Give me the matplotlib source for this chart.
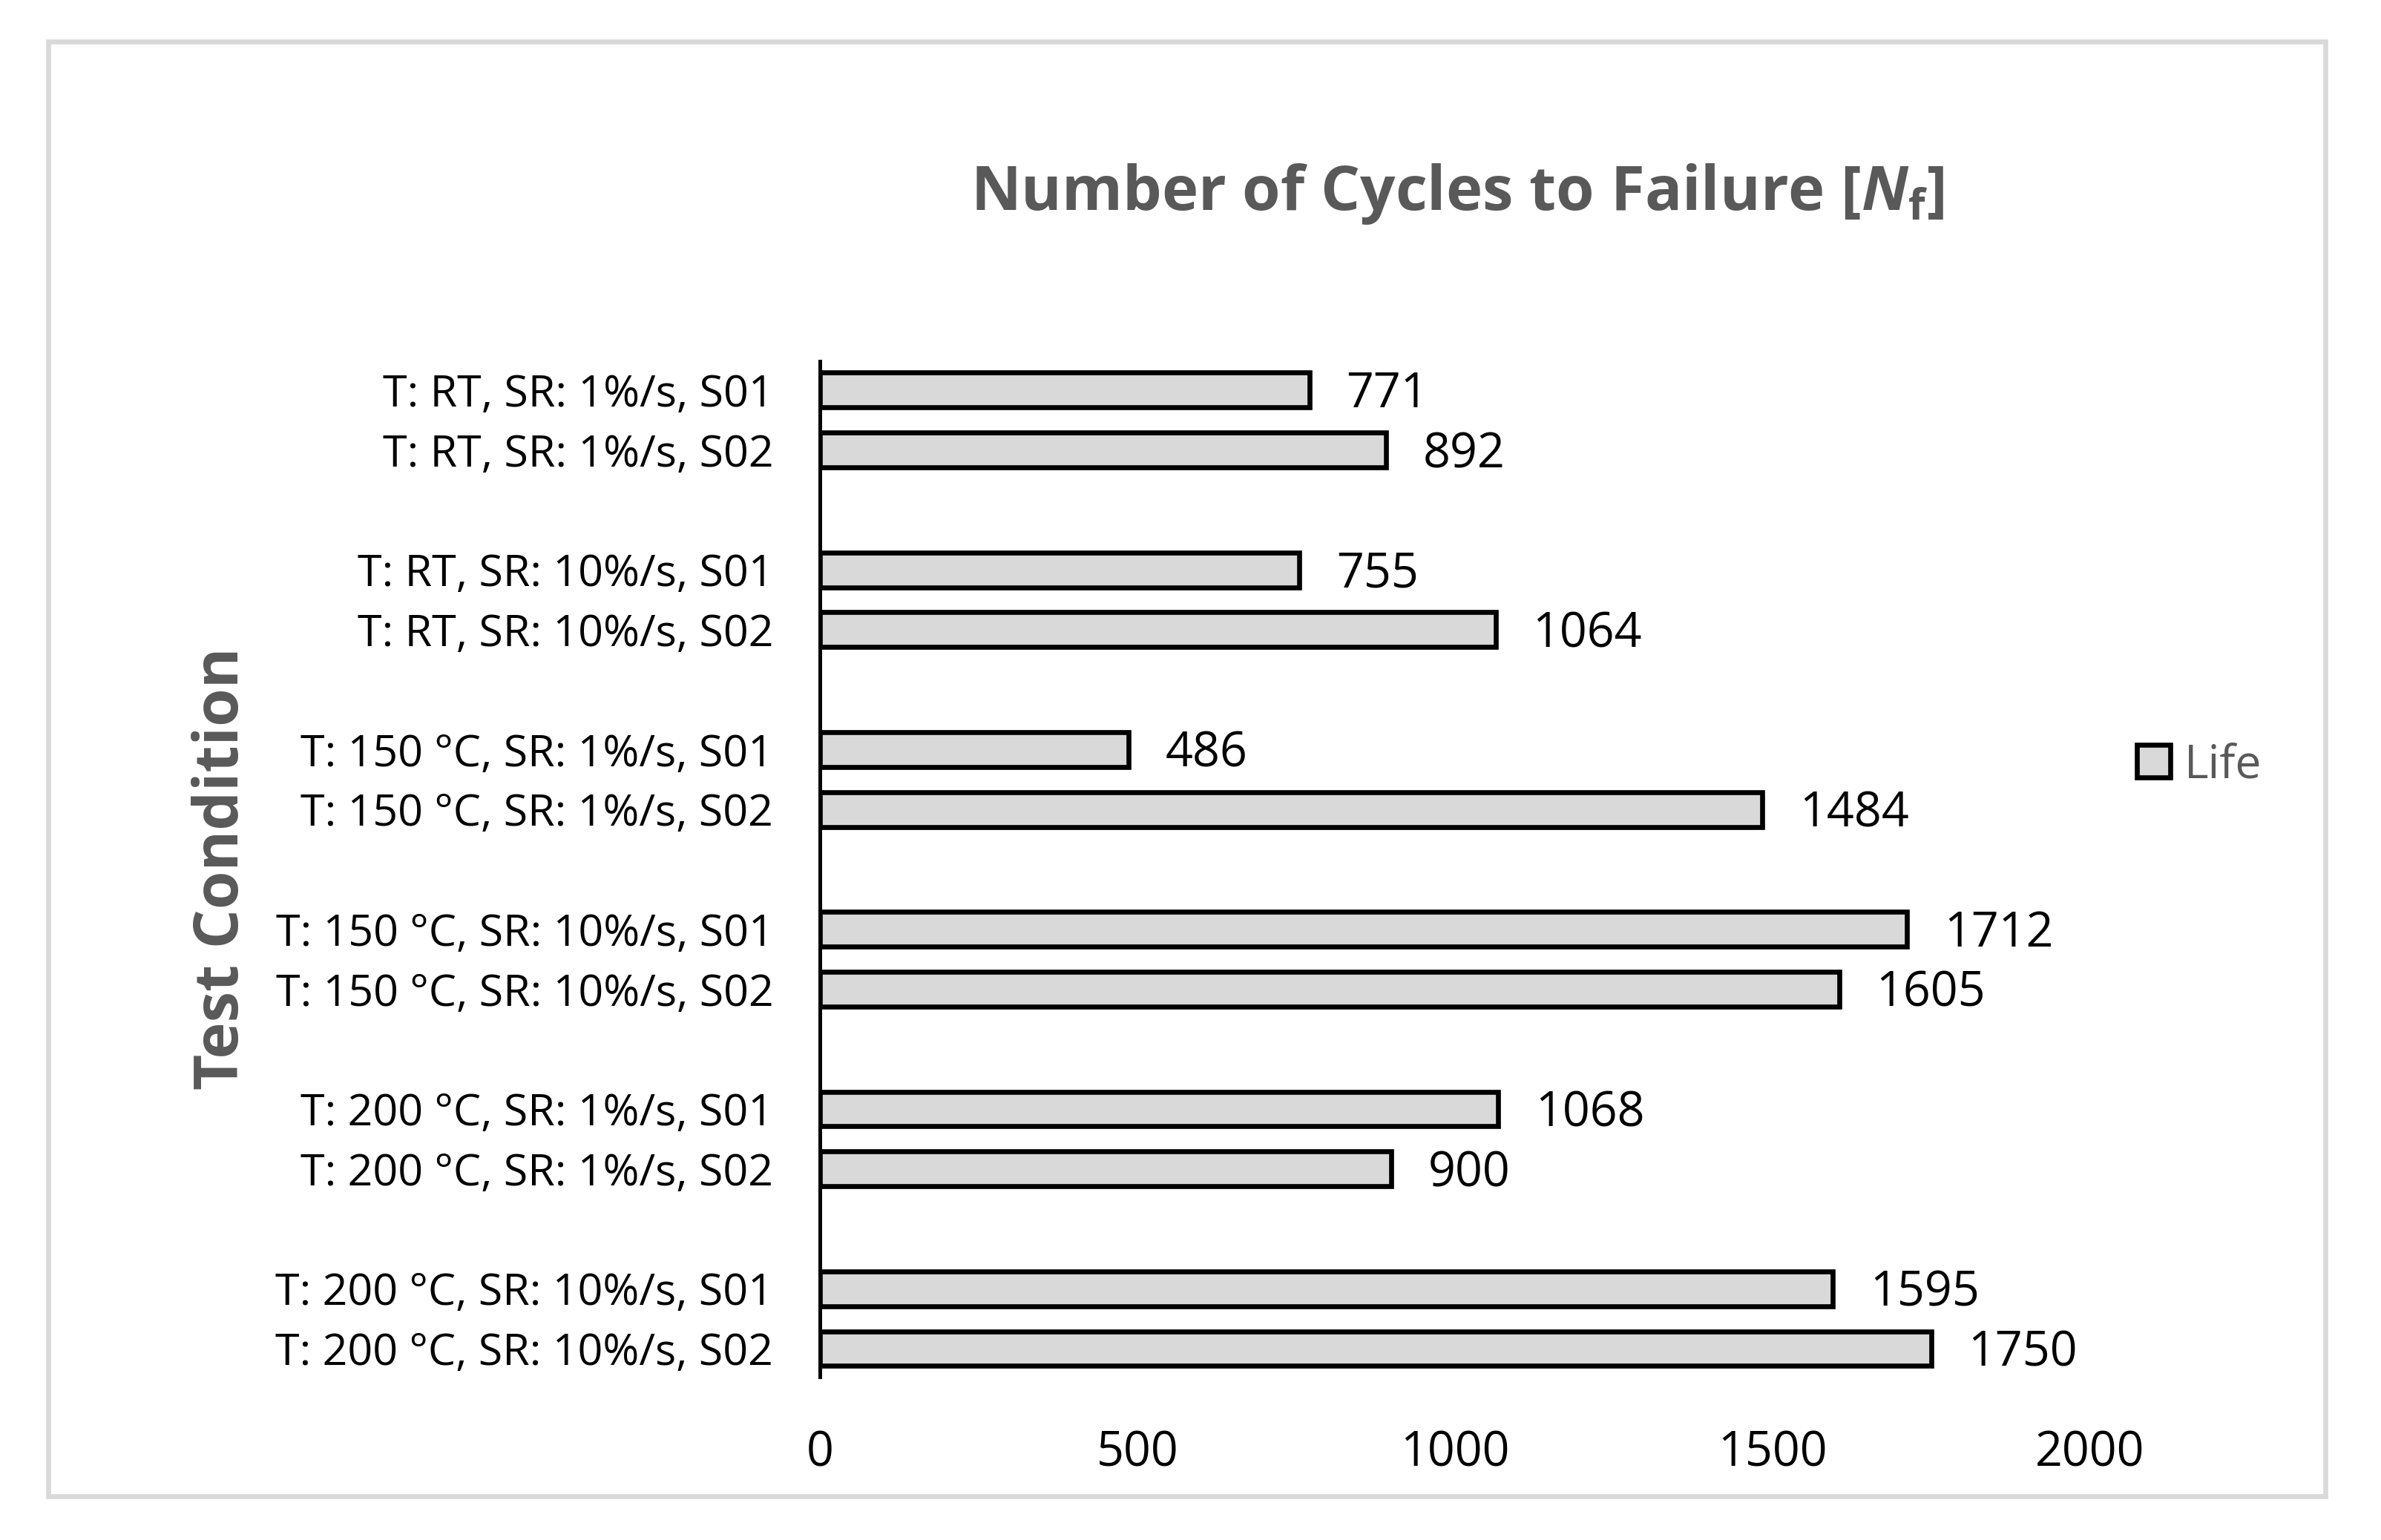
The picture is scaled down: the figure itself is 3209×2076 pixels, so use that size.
import numpy as np
import matplotlib.pyplot as plt
from matplotlib.patches import Rectangle

# datos
conditions = [
    'T: RT, SR: 1%/s, S01', 'T: RT, SR: 1%/s, S02',
    'T: RT, SR: 10%/s, S01', 'T: RT, SR: 10%/s, S02',
    'T: 150 °C, SR: 1%/s, S01', 'T: 150 °C, SR: 1%/s, S02',
    'T: 150 °C, SR: 10%/s, S01', 'T: 150 °C, SR: 10%/s, S02',
    'T: 200 °C, SR: 1%/s, S01', 'T: 200 °C, SR: 1%/s, S02',
    'T: 200 °C, SR: 10%/s, S01', 'T: 200 °C, SR: 10%/s, S02',
]
cycles = [771, 892, 755, 1064, 486, 1484, 1712, 1605, 1068, 900, 1595, 1750]
x_ticks = [0, 500, 1000, 1500, 2000]

plt.rcParams['font.family'] = ['Open Sans', 'DejaVu Sans']
plt.rcParams['mathtext.fontset'] = 'custom'
plt.rcParams['mathtext.it'] = 'Open Sans:italic:bold'
plt.rcParams['mathtext.rm'] = 'Open Sans:bold'

gray_txt = '#595959'
fs_lab = 14.2
fs_num = 15.5

# posiciones: pares de barras con un hueco entre grupos
pos = np.array([3 * (i // 2) + (i % 2) for i in range(len(cycles))], dtype=float)

fig = plt.figure(figsize=(3209 / 300, 2076 / 300), dpi=300)
ax = fig.add_axes([0.3443, 0.106, 0.8778 - 0.3443, 0.7654 - 0.106])

bars = ax.barh(pos, cycles, height=0.58, color='#d9d9d9', edgecolor='black',
               linewidth=1.6, label='Life')

for y, v in zip(pos, cycles):
    ax.text(v + 58, y + 0.08, str(v), va='center', ha='left', fontsize=fs_num, color='black')

ax.set_xlim(0, 2000)
ax.set_ylim(16.47, -0.48)
ax.set_xticks(x_ticks)
ax.set_yticks(pos)
ax.set_yticklabels(conditions)
ax.tick_params(axis='both', length=0, colors='black')
ax.tick_params(axis='y', pad=15, labelsize=fs_lab)
ax.tick_params(axis='x', pad=17, labelsize=fs_num)
for s in ['top', 'right', 'bottom']:
    ax.spines[s].set_visible(False)
ax.spines['left'].set_linewidth(1.2)

fig.text(0.612, 0.874, r'Number of Cycles to Failure [$\mathit{N}_\mathrm{f}$]',
         ha='center', va='center', fontsize=20, fontweight='bold', color=gray_txt)
fig.text(0.0932, 0.436, 'Test Condition', rotation=90, ha='center', va='center',
         fontsize=20, fontweight='bold', color=gray_txt)

leg = fig.legend(handles=[bars], labels=['Life'], loc='center left',
                 bbox_to_anchor=(0.880, 0.503), frameon=False, fontsize=15,
                 handlelength=0.72, handleheight=0.72, handletextpad=0.3)
for t in leg.get_texts():
    t.set_color(gray_txt)

# marco exterior
fig.patches.append(Rectangle((0.0201, 0.0285), 0.9565, 0.9445, transform=fig.transFigure,
                             fill=False, edgecolor='#d9d9d9', linewidth=1.6))

fig.savefig('out.png', dpi=300, facecolor='white')
